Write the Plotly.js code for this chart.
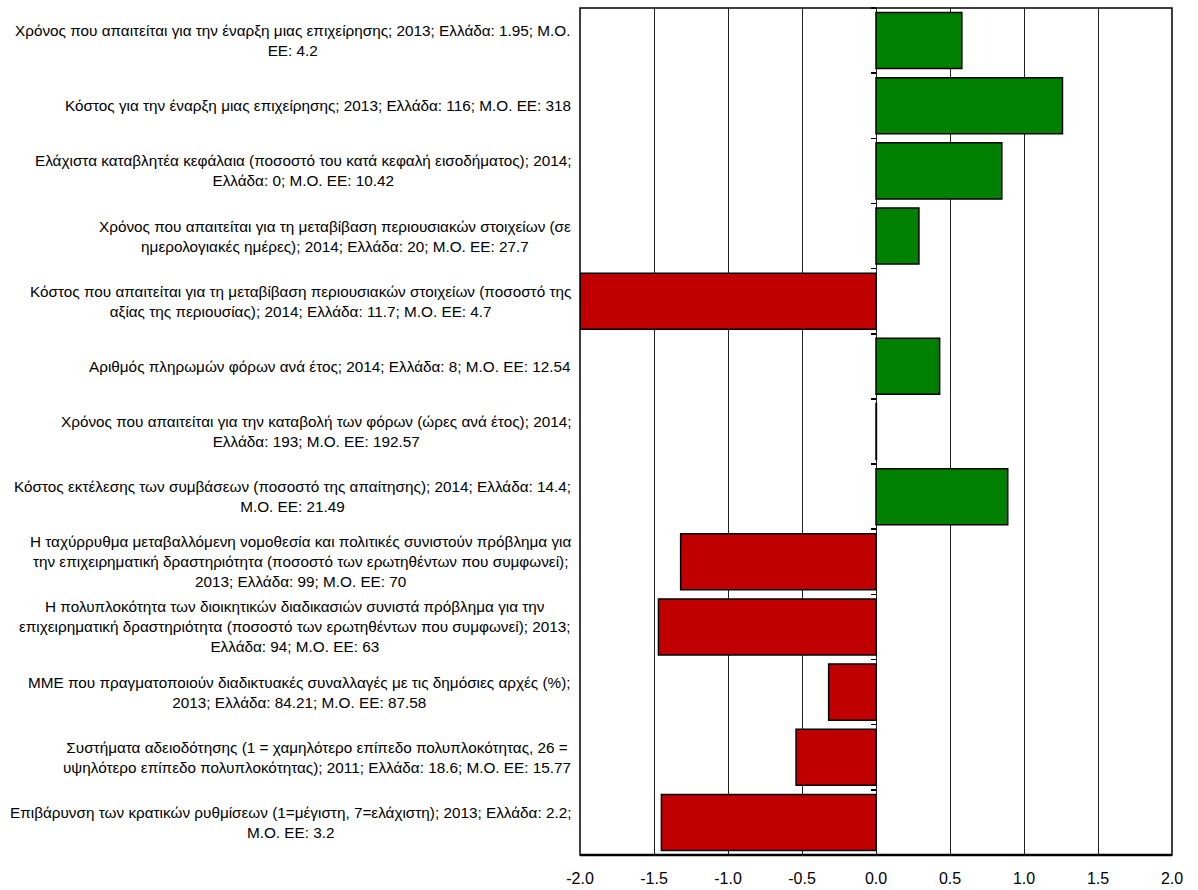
<!DOCTYPE html>
<html>
<head>
<meta charset="utf-8">
<script src="https://cdn.plot.ly/plotly-3.0.1.min.js"></script>
<style>
html,body{margin:0;padding:0;background:#fff;}
#chart{width:1198px;height:890px;}
</style>
</head>
<body>
<div id="chart"></div>
<script>
const categories = [
  "Χρόνος που απαιτείται για την έναρξη μιας επιχείρησης; 2013; Ελλάδα: 1.95; Μ.Ο.<br>ΕΕ: 4.2",
  "Κόστος για την έναρξη μιας επιχείρησης; 2013; Ελλάδα: 116; Μ.Ο. ΕΕ: 318",
  "Ελάχιστα καταβλητέα κεφάλαια (ποσοστό του κατά κεφαλή εισοδήματος); 2014;<br>Ελλάδα: 0; Μ.Ο. ΕΕ: 10.42",
  "Χρόνος που απαιτείται για τη μεταβίβαση περιουσιακών στοιχείων (σε<br>ημερολογιακές ημέρες); 2014; Ελλάδα: 20; Μ.Ο. ΕΕ: 27.7",
  "Κόστος που απαιτείται για τη μεταβίβαση περιουσιακών στοιχείων (ποσοστό της<br>αξίας της περιουσίας); 2014; Ελλάδα: 11.7; Μ.Ο. ΕΕ: 4.7",
  "Αριθμός πληρωμών φόρων ανά έτος; 2014; Ελλάδα: 8; Μ.Ο. ΕΕ: 12.54",
  "Χρόνος που απαιτείται για την καταβολή των φόρων (ώρες ανά έτος); 2014;<br>Ελλάδα: 193; Μ.Ο. ΕΕ: 192.57",
  "Κόστος εκτέλεσης των συμβάσεων (ποσοστό της απαίτησης); 2014; Ελλάδα: 14.4;<br>Μ.Ο. ΕΕ: 21.49",
  "Η ταχύρρυθμα μεταβαλλόμενη νομοθεσία και πολιτικές συνιστούν πρόβλημα για<br>την επιχειρηματική δραστηριότητα (ποσοστό των ερωτηθέντων που συμφωνεί);<br>2013; Ελλάδα: 99; Μ.Ο. ΕΕ: 70",
  "Η πολυπλοκότητα των διοικητικών διαδικασιών συνιστά πρόβλημα για την<br>επιχειρηματική δραστηριότητα (ποσοστό των ερωτηθέντων που συμφωνεί); 2013;<br>Ελλάδα: 94; Μ.Ο. ΕΕ: 63",
  "ΜΜΕ που πραγματοποιούν διαδικτυακές συναλλαγές με τις δημόσιες αρχές (%);<br>2013; Ελλάδα: 84.21; Μ.Ο. ΕΕ: 87.58",
  "Συστήματα αδειοδότησης (1 = χαμηλότερο επίπεδο πολυπλοκότητας, 26 =<br>υψηλότερο επίπεδο πολυπλοκότητας); 2011; Ελλάδα: 18.6; Μ.Ο. ΕΕ: 15.77",
  "Επιβάρυνση των κρατικών ρυθμίσεων (1=μέγιστη, 7=ελάχιστη); 2013; Ελλάδα: 2.2;<br>Μ.Ο. ΕΕ: 3.2"
];
const values = [0.58, 1.26, 0.85, 0.29, -2.0, 0.43, 0.003, 0.89, -1.32, -1.47, -0.32, -0.54, -1.45];
const tickVals = [-2.0, -1.5, -1.0, -0.5, 0.0, 0.5, 1.0, 1.5, 2.0];
const tickText = ["-2.0", "-1.5", "-1.0", "-0.5", "0.0", "0.5", "1.0", "1.5", "2.0"];

const ids = categories.map((c, i) => "c" + i);
const colors = values.map(v => v >= 0 ? "#008000" : "#C00000");

const trace = {
  type: "bar",
  orientation: "h",
  y: ids,
  x: values,
  marker: {color: colors, line: {color: "#000", width: 1.5}},
  width: 0.86,
  hoverinfo: "skip"
};

const annotations = categories.map((c, i) => ({
  xref: "paper", yref: "y",
  x: 0, y: ids[i],
  xanchor: "right", yanchor: "middle",
  xshift: -7,
  align: "center",
  showarrow: false,
  text: c,
  font: {family: "Liberation Sans, Arial, sans-serif", size: 15.3, color: "#000"}
}));

const layout = {
  width: 1198, height: 890,
  margin: {l: 580, r: 26, t: 8, b: 35},
  paper_bgcolor: "#fff", plot_bgcolor: "#fff",
  showlegend: false,
  xaxis: {
    range: [-2, 2],
    tickvals: tickVals, ticktext: tickText,
    showgrid: true, gridcolor: "#222", gridwidth: 1,
    zeroline: true, zerolinecolor: "#222", zerolinewidth: 1,
    showline: false,
    ticks: "",
    ticklabelstandoff: 12,
    tickfont: {family: "Liberation Sans, Arial, sans-serif", size: 16, color: "#000"},
    fixedrange: true
  },
  yaxis: {
    type: "category",
    categoryorder: "array", categoryarray: ids,
    autorange: "reversed",
    showticklabels: false,
    showgrid: false, zeroline: false,
    anchor: "free", position: 0.5,
    ticks: "outside", ticklen: 5, tickcolor: "#000", tickwidth: 1.5,
    tickson: "boundaries",
    showline: false,
    fixedrange: true
  },
  annotations: annotations,
  shapes: [
    {type: "rect", xref: "paper", yref: "paper", x0: 0, x1: 1, y0: 0, y1: 1, line: {color: "#000", width: 1.5}, layer: "above"},
    {type: "line", xref: "paper", yref: "paper", x0: 0, x1: 1, y0: 0, y1: 0, line: {color: "#000", width: 2.5}, layer: "above"}
  ]
};

Plotly.newPlot("chart", [trace], layout, {displayModeBar: false, staticPlot: true});
</script>
</body>
</html>
